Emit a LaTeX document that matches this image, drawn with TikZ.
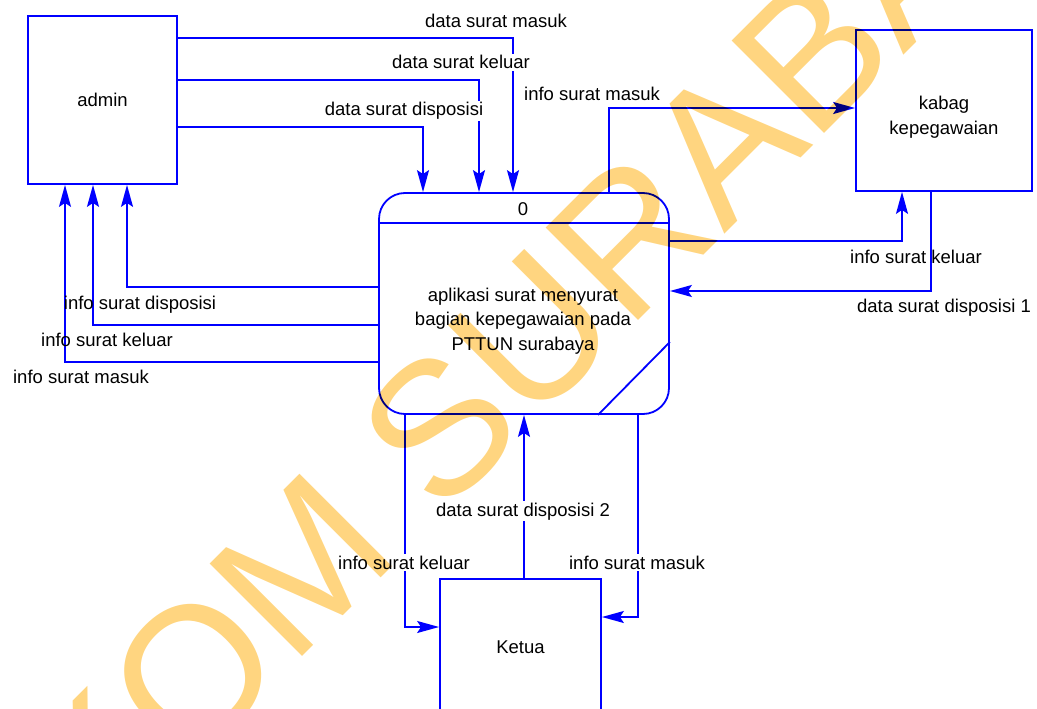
\documentclass[tikz,border=0pt]{standalone}
\usepackage{fontspec}
\setmainfont{Liberation Sans}
\usetikzlibrary{arrows.meta}
\definecolor{wm}{RGB}{255,213,128}
\begin{document}
\begin{tikzpicture}[x=1pt,y=-1pt,
  txt/.style={font=\fontsize{18.5}{24.5}\selectfont},
  box/.style={draw=blue, line width=1.8pt, inner sep=0pt, txt},
  flow/.style={draw=blue, line width=1.8pt, -{Stealth[length=22pt,width=12pt,inset=4pt]}},
  lbl/.style={txt, inner sep=0pt, anchor=base},
  lblw/.style={lbl, fill=white, inner sep=1.5pt},
  ]
\useasboundingbox (0,0) rectangle (1037,709);
% boxes
\node[box, minimum width=149pt, minimum height=168pt] (admin) at (102.5,100) {admin};
\node[box, minimum width=176pt, minimum height=161pt] (kabag) at (944,110.5) {};
\node[box, minimum width=161pt, minimum height=136pt] (ketua) at (520.5,647) {Ketua};
\node[box, minimum width=290pt, minimum height=221pt, rounded corners=26pt] (proc) at (524,303.5) {};
\node[txt, align=center, anchor=north, inner sep=0pt] (kabagtext) at (944,96) {kabag\\kepegawaian};
\node[lbl] (procid) at (523,215) {0};
\node[txt, align=center, anchor=north, inner sep=0pt] (proctext) at (523,287.5) {aplikasi surat menyurat\\bagian kepegawaian pada\\PTTUN surabaya};
\draw[blue, line width=1.8pt] (proc.west |- 0,223) -- (proc.east |- 0,223);
\draw[blue, line width=1.8pt] (proc.south -| 598,0) -- (proc.east |- 0,342);
% flows admin -> proc
\draw[flow] (admin.east |- 0,38) -| (proc.north -| 513,0);
\draw[flow] (admin.east |- 0,80) -| (proc.north -| 479,0);
\draw[flow] (admin.east |- 0,127) -| (proc.north -| 423,0);
% flows proc -> admin
\draw[flow] (proc.west |- 0,287) -| (admin.south -| 127,0);
\draw[flow] (proc.west |- 0,325) -| (admin.south -| 93,0);
\draw[flow] (proc.west |- 0,362) -| (admin.south -| 65,0);
% proc <-> kabag
\draw[flow] (proc.north -| 609,0) |- (kabag.west |- 0,108);
\draw[flow] (proc.east |- 0,241) -| (kabag.south -| 902,0);
\draw[flow] (kabag.south -| 931,0) |- (proc.east |- 0,291);
% proc <-> ketua
\draw[flow] (proc.south -| 405,0) |- (ketua.west |- 0,627);
\draw[flow] (proc.south -| 638,0) |- (ketua.east |- 0,617);
\draw[flow] (ketua.north -| 524,0) -- (proc.south -| 524,0);
% labels
\node[lbl] (l1) at (496,28) {data surat masuk};
\node[lblw] (l2) at (461,69) {data surat keluar};
\node[lblw] (l3) at (404,116) {data surat disposisi};
\node[lbl] (l4) at (592,100) {info surat masuk};
\node[lbl] (l5) at (140,309) {info surat disposisi};
\node[lbl] (l6) at (107,346) {info surat keluar};
\node[lbl] (l7) at (81,383) {info surat masuk};
\node[lbl] (l8) at (916,263) {info surat keluar};
\node[lbl] (l9) at (944,312) {data surat disposisi 1};
\node[lblw] (l10) at (523,516) {data surat disposisi 2};
\node[lblw] (l11) at (404,569) {info surat keluar};
\node[lblw] (l12) at (637,569) {info surat masuk};
% watermark
\begin{scope}[blend mode=multiply]
\node[text=wm, font=\fontsize{190}{190}\selectfont, inner sep=0pt, anchor=base west, rotate=45] (wmark) at (-111.7,1070.6) {STIKOM SURABAYA};
\end{scope}
\end{tikzpicture}
\end{document}
